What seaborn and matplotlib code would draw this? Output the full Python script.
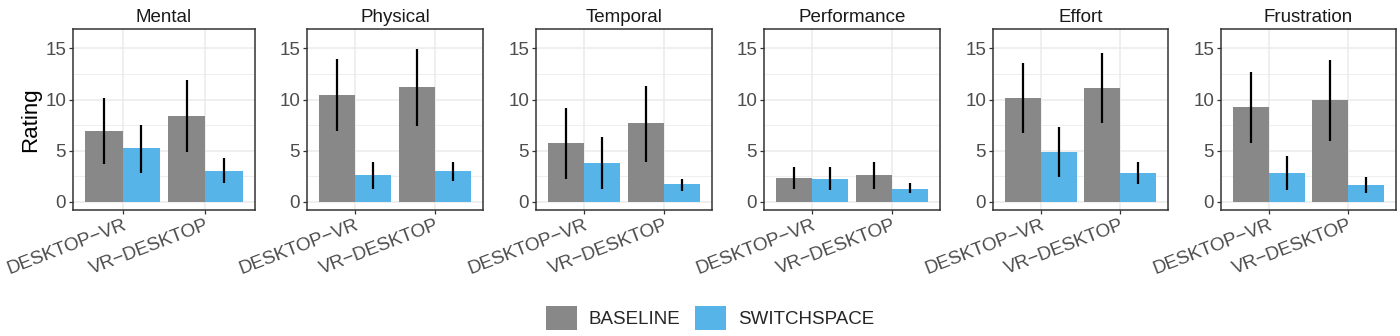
import numpy as np
import pandas as pd
import matplotlib
matplotlib.use("Agg")
import matplotlib.pyplot as plt
import seaborn as sns
from matplotlib.patches import Patch

measures = ["Mental", "Physical", "Temporal", "Performance", "Effort", "Frustration"]
conditions = ["DESKTOP\u2212VR", "VR\u2212DESKTOP"]
techniques = ["BASELINE", "SWITCHSPACE"]

base_mean = [[6.91, 8.38], [10.47, 11.22], [5.77, 7.66], [2.31, 2.58], [10.14, 11.09], [9.23, 9.91]]
sw_mean = [[5.22, 3.06], [2.61, 2.97], [3.75, 1.70], [2.22, 1.27], [4.89, 2.80], [2.80, 1.63]]
base_lo = [[3.68, 4.86], [6.94, 7.43], [2.28, 3.91], [1.27, 1.21], [6.75, 7.66], [5.77, 5.90]]
base_hi = [[10.20, 11.87], [13.92, 14.97], [9.19, 11.31], [3.36, 3.91], [13.53, 14.51], [12.65, 13.86]]
sw_lo = [[2.77, 1.86], [1.30, 2.02], [1.21, 1.08], [1.11, 0.82], [2.45, 1.70], [1.14, 0.82]]
sw_hi = [[7.56, 4.24], [3.91, 3.91], [6.29, 2.28], [3.36, 1.83], [7.34, 3.91], [4.47, 2.45]]

colors = {"BASELINE": "#888888", "SWITCHSPACE": "#56B4E9"}

rows = []
for i, m in enumerate(measures):
    for j, c in enumerate(conditions):
        rows.append(dict(measure=m, condition=c, technique="BASELINE",
                         mean=base_mean[i][j], lo=base_lo[i][j], hi=base_hi[i][j]))
        rows.append(dict(measure=m, condition=c, technique="SWITCHSPACE",
                         mean=sw_mean[i][j], lo=sw_lo[i][j], hi=sw_hi[i][j]))
df = pd.DataFrame(rows)

sns.set_theme(style="white")
plt.rcParams['font.family'] = ['Liberation Sans', 'DejaVu Sans']

W, H = 1400, 336
fig = plt.figure(figsize=(W / 100, H / 100), dpi=100)

lefts = [73, 307, 536, 764, 993, 1221]
rights = [255, 483, 712, 940, 1168, 1396]
top, bottom = 29, 210

for i, m in enumerate(measures):
    ax = fig.add_axes([lefts[i] / W, 1 - bottom / H, (rights[i] - lefts[i]) / W, (bottom - top) / H])
    sub = df[df.measure == m]
    sns.barplot(data=sub, x="condition", y="mean", hue="technique", order=conditions,
                hue_order=techniques, palette=colors, width=0.9, errorbar=None,
                saturation=1, ax=ax, legend=False, zorder=2, linewidth=0)
    for tech_idx, tech in enumerate(techniques):
        cont = ax.containers[tech_idx]
        for bar, cond in zip(cont, conditions):
            r = sub[(sub.technique == tech) & (sub.condition == cond)].iloc[0]
            xc = bar.get_x() + bar.get_width() / 2
            ax.vlines(xc, r.lo, r.hi, color="black", lw=1.6, zorder=3)
    ax.set_ylim(-0.8, 16.9)
    ax.set_xlim(-0.6, 1.6)
    ax.set_yticks([0, 5, 10, 15])
    ax.set_yticks([2.5, 7.5, 12.5], minor=True)
    ax.grid(True, which="major", color="#EBEBEB", lw=1.1, zorder=0)
    ax.grid(True, which="minor", axis="y", color="#EBEBEB", lw=0.6, zorder=0)
    ax.set_axisbelow(True)
    for s in ax.spines.values():
        s.set_color("#333333")
        s.set_linewidth(1.1)
    ax.tick_params(axis="both", which="major", length=3, width=0.9, color="#333333",
                   labelsize=13.5, labelcolor="#4D4D4D", pad=2, left=True, bottom=True)
    ax.tick_params(axis="x", labelsize=13.6)
    ax.tick_params(axis="y", which="minor", length=0)
    ax.set_xticks([0, 1])
    ax.set_xticklabels(conditions, rotation=21, ha="right", rotation_mode="anchor")
    ax.set_xlabel("")
    if i == 0:
        ax.set_ylabel("Rating", fontsize=16, color="black", labelpad=3)
    else:
        ax.set_ylabel("")
    ax.set_title(m, fontsize=13.5, color="#1A1A1A", pad=5)

handles = [Patch(facecolor=colors[t], edgecolor="none", label=t) for t in techniques]
fig.legend(handles=handles, loc="center", bbox_to_anchor=(710 / W, 1 - 318 / H), ncol=2,
           frameon=False, fontsize=13.5, handlelength=1.65, handleheight=1.6,
           handletextpad=0.65, columnspacing=0.75)

fig.savefig("out.png", dpi=100)
